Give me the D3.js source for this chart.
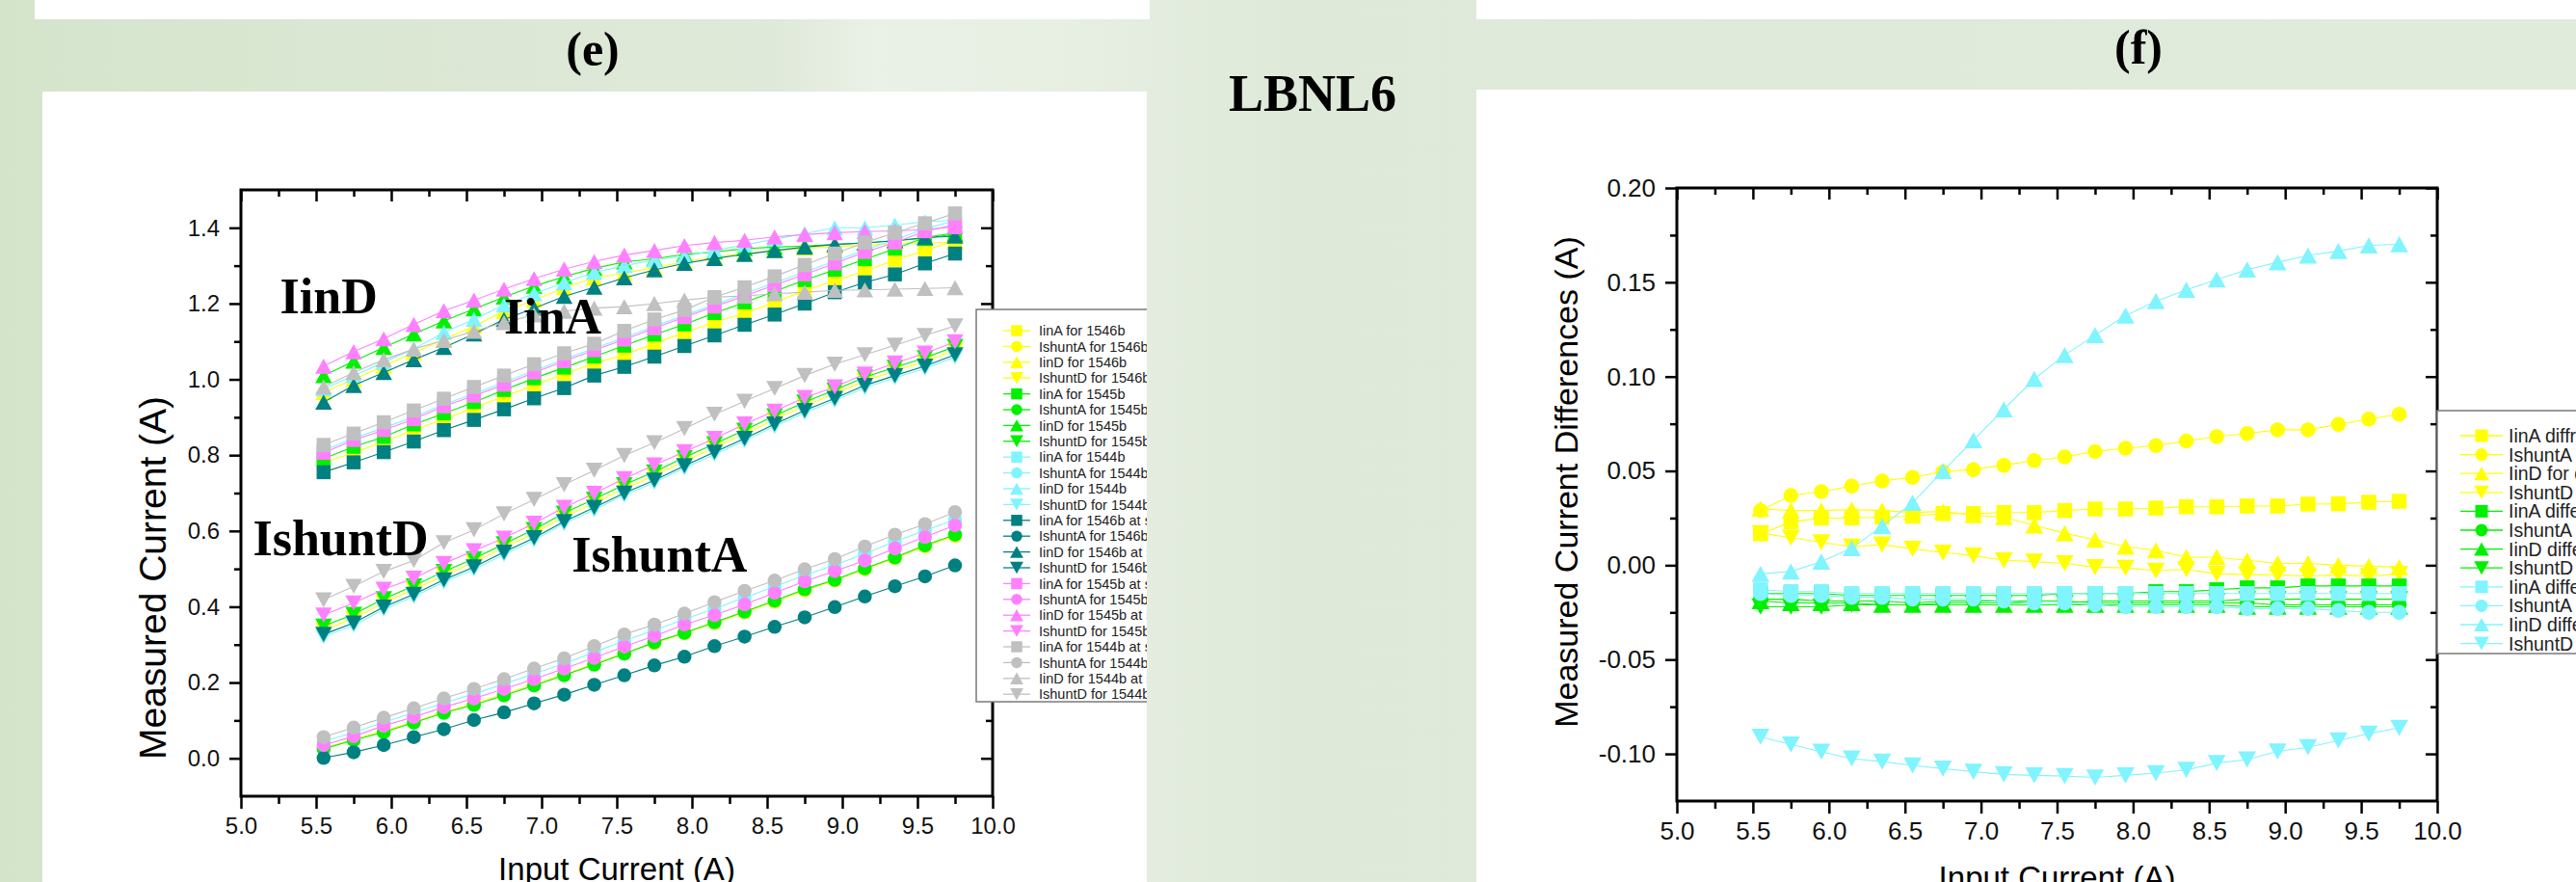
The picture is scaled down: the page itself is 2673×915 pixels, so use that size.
<!DOCTYPE html>
<html>
<head>
<meta charset="utf-8">
<script src="https://cdn.jsdelivr.net/npm/d3@7"></script>
<style>
html, body { margin: 0; padding: 0; background: #dfe9d9; }
svg { display: block; }
</style>
</head>
<body>
<svg id="chart" width="2673" height="915"></svg>
<script>
// input current steps (A)
const xValues = [5.55, 5.75, 5.95, 6.15, 6.35, 6.55, 6.75, 6.95, 7.15, 7.35, 7.55,
                 7.75, 7.95, 8.15, 8.35, 8.55, 8.75, 8.95, 9.15, 9.35, 9.55, 9.75];

const xTicks = [5.0, 5.5, 6.0, 6.5, 7.0, 7.5, 8.0, 8.5, 9.0, 9.5, 10.0];
const xMinor = [5.25, 5.75, 6.25, 6.75, 7.25, 7.75, 8.25, 8.75, 9.25, 9.75];
const leftYTicks = [0.0, 0.2, 0.4, 0.6, 0.8, 1.0, 1.2, 1.4];
const leftYMinor = [0.1, 0.3, 0.5, 0.7, 0.9, 1.1, 1.3];
const rightYTicks = [-0.10, -0.05, 0.00, 0.05, 0.10, 0.15, 0.20];
const rightYMinor = [-0.075, -0.025, 0.025, 0.075, 0.125, 0.175];

// ---- panel (e): measured currents ----
const iinA_1546b    = [0.781,0.806,0.836,0.866,0.895,0.925,0.955,0.984,1.014,1.043,1.065,1.094,1.124,1.150,1.175,1.203,1.234,1.260,1.285,1.315,1.340,1.366];
const ishuntA_1546b = [0.027,0.050,0.072,0.096,0.122,0.144,0.169,0.195,0.221,0.249,0.278,0.304,0.330,0.357,0.385,0.413,0.443,0.469,0.499,0.528,0.559,0.587];
const iinD_1546b    = [0.965,1.000,1.035,1.070,1.105,1.140,1.180,1.209,1.242,1.268,1.280,1.295,1.310,1.322,1.332,1.340,1.346,1.350,1.354,1.358,1.360,1.362];
const ishuntD_1546b = [0.339,0.369,0.411,0.445,0.483,0.517,0.556,0.594,0.637,0.674,0.712,0.746,0.784,0.820,0.856,0.894,0.930,0.962,0.996,1.022,1.047,1.077];

const iinA_1545b    = [0.791,0.822,0.848,0.881,0.910,0.940,0.972,1.003,1.031,1.060,1.089,1.118,1.145,1.175,1.203,1.232,1.262,1.289,1.317,1.345,1.374,1.387];
const ishuntA_1545b = [0.025,0.048,0.069,0.094,0.120,0.141,0.166,0.192,0.219,0.247,0.276,0.306,0.331,0.359,0.387,0.416,0.446,0.471,0.501,0.530,0.562,0.590];
const iinD_1545b    = [1.010,1.048,1.084,1.120,1.154,1.186,1.217,1.246,1.271,1.293,1.310,1.318,1.330,1.336,1.345,1.349,1.352,1.356,1.360,1.366,1.372,1.383];
const ishuntD_1545b = [0.349,0.380,0.421,0.455,0.493,0.527,0.566,0.604,0.647,0.684,0.722,0.756,0.794,0.830,0.866,0.904,0.940,0.972,1.006,1.032,1.057,1.087];

const iinA_1544b    = [0.812,0.845,0.872,0.901,0.934,0.962,0.992,1.023,1.053,1.082,1.110,1.140,1.169,1.197,1.226,1.255,1.283,1.312,1.342,1.368,1.398,1.418];
const ishuntA_1544b = [0.045,0.068,0.095,0.120,0.146,0.170,0.196,0.223,0.250,0.280,0.310,0.338,0.367,0.395,0.424,0.453,0.483,0.510,0.540,0.572,0.601,0.630];
const iinD_1544b    = [0.975,1.010,1.045,1.080,1.124,1.158,1.196,1.226,1.255,1.282,1.300,1.315,1.325,1.340,1.355,1.370,1.385,1.400,1.400,1.407,1.416,1.420];
const ishuntD_1544b = [0.321,0.351,0.393,0.427,0.465,0.499,0.538,0.576,0.619,0.656,0.694,0.728,0.766,0.802,0.838,0.876,0.912,0.944,0.978,1.004,1.029,1.059];

const iinA_1546b_2    = [0.755,0.781,0.808,0.836,0.866,0.893,0.921,0.950,0.977,1.010,1.033,1.060,1.088,1.116,1.144,1.171,1.200,1.230,1.256,1.277,1.306,1.332];
const ishuntA_1546b_2 = [0.001,0.016,0.035,0.056,0.077,0.101,0.121,0.145,0.168,0.194,0.219,0.245,0.268,0.296,0.321,0.347,0.372,0.399,0.427,0.454,0.480,0.509];
const iinD_1546b_2    = [0.940,0.984,1.018,1.052,1.084,1.120,1.158,1.188,1.219,1.243,1.268,1.289,1.306,1.319,1.330,1.340,1.349,1.356,1.360,1.366,1.374,1.378];
const ishuntD_1546b_2 = [0.327,0.357,0.399,0.433,0.471,0.505,0.544,0.582,0.625,0.662,0.700,0.734,0.772,0.808,0.844,0.882,0.918,0.950,0.984,1.010,1.035,1.065];

const iinA_1545b_2    = [0.806,0.840,0.866,0.895,0.929,0.957,0.986,1.018,1.048,1.077,1.105,1.135,1.164,1.192,1.220,1.249,1.277,1.306,1.336,1.361,1.391,1.408];
const ishuntA_1545b_2 = [0.035,0.058,0.086,0.109,0.135,0.158,0.183,0.209,0.237,0.265,0.295,0.323,0.353,0.378,0.406,0.437,0.467,0.494,0.522,0.554,0.584,0.615];
const iinD_1545b_2    = [1.035,1.073,1.107,1.145,1.181,1.209,1.238,1.266,1.291,1.311,1.328,1.340,1.353,1.361,1.367,1.376,1.382,1.387,1.390,1.392,1.395,1.403];
const ishuntD_1545b_2 = [0.378,0.410,0.446,0.475,0.514,0.548,0.581,0.620,0.662,0.699,0.738,0.774,0.809,0.844,0.882,0.916,0.952,0.980,1.014,1.043,1.069,1.099];

const iinA_1544b_2    = [0.827,0.857,0.887,0.918,0.949,0.980,1.010,1.040,1.069,1.094,1.128,1.158,1.183,1.217,1.243,1.272,1.302,1.332,1.361,1.387,1.412,1.438];
const ishuntA_1544b_2 = [0.056,0.081,0.107,0.132,0.158,0.183,0.209,0.237,0.264,0.296,0.327,0.353,0.382,0.412,0.442,0.469,0.499,0.526,0.559,0.590,0.618,0.650];
const iinD_1544b_2    = [0.980,1.018,1.052,1.080,1.103,1.127,1.150,1.170,1.180,1.188,1.192,1.200,1.209,1.217,1.220,1.226,1.230,1.235,1.236,1.238,1.240,1.242];
const ishuntD_1544b_2 = [0.418,0.454,0.493,0.522,0.569,0.603,0.645,0.683,0.722,0.760,0.799,0.833,0.870,0.908,0.942,0.976,1.010,1.040,1.065,1.090,1.116,1.141];

// ---- panel (f): differences ----
const diffIinA_1546b    = [0.0166,0.0230,0.0250,0.0250,0.0255,0.0260,0.0274,0.0274,0.0279,0.0279,0.0290,0.0298,0.0298,0.0303,0.0310,0.0310,0.0314,0.0314,0.0324,0.0326,0.0334,0.0339];
const diffIshuntA_1546b = [0.0290,0.0370,0.0390,0.0420,0.0447,0.0466,0.0495,0.0507,0.0530,0.0555,0.0574,0.0603,0.0620,0.0634,0.0658,0.0682,0.0698,0.0718,0.0718,0.0747,0.0775,0.0800];
const diffIinD_1546b    = [0.0300,0.0290,0.0290,0.0295,0.0290,0.0280,0.0285,0.0266,0.0255,0.0211,0.0170,0.0135,0.0099,0.0079,0.0043,0.0043,0.0026,0.0010,0.0010,0.0000,-0.0005,-0.0010];
const diffIshuntD_1546b = [0.0170,0.0146,0.0122,0.0098,0.0110,0.0087,0.0067,0.0051,0.0026,0.0019,0.0010,-0.0010,-0.0014,-0.0029,-0.0022,-0.0046,-0.0050,-0.0050,-0.0058,-0.0050,-0.0058,-0.0046];

const diffIinA_1545b    = [-0.015,-0.015,-0.015,-0.016,-0.016,-0.016,-0.016,-0.016,-0.016,-0.016,-0.015,-0.015,-0.015,-0.014,-0.014,-0.013,-0.012,-0.012,-0.011,-0.011,-0.011,-0.011];
const diffIshuntA_1545b = [-0.018,-0.018,-0.019,-0.019,-0.019,-0.020,-0.019,-0.019,-0.019,-0.019,-0.019,-0.020,-0.020,-0.020,-0.020,-0.020,-0.020,-0.021,-0.021,-0.021,-0.021,-0.021];
const diffIinD_1545b    = [-0.019,-0.020,-0.020,-0.020,-0.021,-0.021,-0.021,-0.021,-0.021,-0.021,-0.021,-0.021,-0.021,-0.021,-0.021,-0.021,-0.022,-0.022,-0.022,-0.022,-0.022,-0.022];
const diffIshuntD_1545b = [-0.022,-0.022,-0.022,-0.021,-0.021,-0.021,-0.020,-0.020,-0.020,-0.020,-0.020,-0.019,-0.019,-0.019,-0.019,-0.019,-0.018,-0.018,-0.018,-0.018,-0.018,-0.018];

const diffIinA_1544b    = [-0.013,-0.014,-0.014,-0.015,-0.015,-0.015,-0.015,-0.015,-0.015,-0.015,-0.015,-0.015,-0.015,-0.015,-0.015,-0.015,-0.015,-0.015,-0.015,-0.015,-0.015,-0.015];
const diffIshuntA_1544b = [-0.015,-0.016,-0.016,-0.017,-0.017,-0.018,-0.018,-0.018,-0.019,-0.020,-0.020,-0.021,-0.022,-0.022,-0.022,-0.022,-0.023,-0.023,-0.023,-0.024,-0.025,-0.025];
const diffIinD_1544b    = [-0.0046,-0.0033,0.0019,0.0091,0.0207,0.0331,0.0499,0.0663,0.0826,0.0987,0.1114,0.1220,0.1323,0.1400,0.1460,0.1515,0.1567,0.1606,0.1642,0.1666,0.1695,0.1702];
const diffIshuntD_1544b = [-0.0910,-0.0950,-0.0989,-0.1025,-0.1041,-0.1061,-0.1078,-0.1095,-0.1109,-0.1114,-0.1118,-0.1125,-0.1114,-0.1102,-0.1085,-0.1049,-0.1030,-0.0987,-0.0965,-0.0929,-0.0893,-0.0862];

const YELLOW = "#ffff00", GREEN = "#00f000", CYAN = "#80f4ff",
      TEAL = "#008080", VIOLET = "#ff80ff", GREY = "#c0c0c0";

const leftSeries = [
    ["IinA for 1546b", iinA_1546b, YELLOW, "square"],
    ["IshuntA for 1546b", ishuntA_1546b, YELLOW, "circle"],
    ["IinD for 1546b", iinD_1546b, YELLOW, "up"],
    ["IshuntD for 1546b", ishuntD_1546b, YELLOW, "down"],
    ["IinA for 1545b", iinA_1545b, GREEN, "square"],
    ["IshuntA for 1545b", ishuntA_1545b, GREEN, "circle"],
    ["IinD for 1545b", iinD_1545b, GREEN, "up"],
    ["IshuntD for 1545b", ishuntD_1545b, GREEN, "down"],
    ["IinA for 1544b", iinA_1544b, CYAN, "square"],
    ["IshuntA for 1544b", ishuntA_1544b, CYAN, "circle"],
    ["IinD for 1544b", iinD_1544b, CYAN, "up"],
    ["IshuntD for 1544b", ishuntD_1544b, CYAN, "down"],
    ["IinA for 1546b at second run", iinA_1546b_2, TEAL, "square"],
    ["IshuntA for 1546b at second run", ishuntA_1546b_2, TEAL, "circle"],
    ["IinD for 1546b at second run", iinD_1546b_2, TEAL, "up"],
    ["IshuntD for 1546b at second run", ishuntD_1546b_2, TEAL, "down"],
    ["IinA for 1545b at second run", iinA_1545b_2, VIOLET, "square"],
    ["IshuntA for 1545b at second run", ishuntA_1545b_2, VIOLET, "circle"],
    ["IinD for 1545b at second run", iinD_1545b_2, VIOLET, "up"],
    ["IshuntD for 1545b at second run", ishuntD_1545b_2, VIOLET, "down"],
    ["IinA for 1544b at second run", iinA_1544b_2, GREY, "square"],
    ["IshuntA for 1544b at second run", ishuntA_1544b_2, GREY, "circle"],
    ["IinD for 1544b at second run", iinD_1544b_2, GREY, "up"],
    ["IshuntD for 1544b at second run", ishuntD_1544b_2, GREY, "down"]
];

const rightSeries = [
    ["IinA diffrence for 1546b", diffIinA_1546b, YELLOW, "square"],
    ["IshuntA  difference for 1546b", diffIshuntA_1546b, YELLOW, "circle"],
    ["IinD for difference 1546b", diffIinD_1546b, YELLOW, "up"],
    ["IshuntD  difference for 1546b", diffIshuntD_1546b, YELLOW, "down"],
    ["IinA difference for 1545b", diffIinA_1545b, GREEN, "square"],
    ["IshuntA  difference for 1545b", diffIshuntA_1545b, GREEN, "circle"],
    ["IinD difference for 1545b", diffIinD_1545b, GREEN, "up"],
    ["IshuntD  difference for 1545b", diffIshuntD_1545b, GREEN, "down"],
    ["IinA difference for 1544b", diffIinA_1544b, CYAN, "square"],
    ["IshuntA  difference for 1544b", diffIshuntA_1544b, CYAN, "circle"],
    ["IinD difference for 1544b", diffIinD_1544b, CYAN, "up"],
    ["IshuntD  difference for 1544b", diffIshuntD_1544b, CYAN, "down"]
];

// curve group names written inside panel (e), placed in data units
const leftNotes = [
    {text: "IinD", x: 5.26, y: 1.175},
    {text: "IinA", x: 6.75, y: 1.12},
    {text: "IshuntD", x: 5.08, y: 0.535},
    {text: "IshuntA", x: 7.20, y: 0.493}
];

const SANS = "'Liberation Sans', Arial, sans-serif";
const SERIF = "'Liberation Serif', 'Times New Roman', serif";

let svg = d3.select("#chart");
let defs = svg.append("defs");

// page background
let grad = defs.append("linearGradient").attr("id", "bg");
[[0, "#d4e4cb"], [0.12, "#dae7d2"], [0.3, "#dfe9d9"], [0.34, "#eaf1e7"],
 [0.42, "#e6efe2"], [0.5, "#dfe9d9"], [1, "#e1ebdc"]].forEach(s => {
    grad.append("stop").attr("offset", s[0]).attr("stop-color", s[1]);
});
svg.append("rect").attr("width", 2673).attr("height", 915).attr("fill", "url(#bg)");
svg.append("rect").attr("x", 36).attr("y", 0).attr("width", 1157).attr("height", 20).attr("fill", "#fff");
svg.append("rect").attr("x", 1532).attr("y", 0).attr("width", 1141).attr("height", 20).attr("fill", "#fff");
svg.append("rect").attr("x", 44).attr("y", 95).attr("width", 1146).attr("height", 820).attr("fill", "#fff");
svg.append("rect").attr("x", 1532).attr("y", 93).attr("width", 1141).attr("height", 822).attr("fill", "#fff");

let heading = (txt, x, y, size) => svg.append("text")
    .attr("x", x).attr("y", y)
    .attr("text-anchor", "middle")
    .style("font-family", SERIF).style("font-weight", "bold")
    .style("font-size", size + "px")
    .text(txt);
heading("(e)", 615, 68, 50);
heading("(f)", 2219, 66, 50);
heading("LBNL6", 1362, 115, 54);

function markerPath(shape, s){
    if(shape === "square") return d3.symbol(d3.symbolSquare, s * s)();
    if(shape === "circle") return d3.symbol(d3.symbolCircle, Math.PI * s * s / 4)();
    let w = s * 1.2, h = w * 0.9;
    if(shape === "up") return `M0,${-h / 2}L${w / 2},${h / 2}L${-w / 2},${h / 2}Z`;
    return `M0,${h / 2}L${w / 2},${-h / 2}L${-w / 2},${-h / 2}Z`;
}

function drawPanel(cfg){
    defs.append("clipPath").attr("id", cfg.id + "-clip")
        .append("rect")
            .attr("x", cfg.clip[0]).attr("y", cfg.clip[1])
            .attr("width", cfg.clip[2]).attr("height", cfg.clip[3]);

    let root = svg.append("g").attr("clip-path", `url(#${cfg.id}-clip)`);
    let m = cfg.plot;
    let w = m.right - m.left, h = m.bottom - m.top;
    let g = root.append("g").attr("transform", `translate(${m.left},${m.top})`);

    let x = d3.scaleLinear().domain([5, 10]).range([0, w]);
    let y = d3.scaleLinear().domain(cfg.yDomain).range([h, 0]);

    let fmtY = d => d3.format(cfg.yFormat)(d).replace("\u2212", "-");

    // series: thin connecting lines, then markers
    let line = d3.line().x((d, i) => x(xValues[i])).y(d => y(d));
    let series = g.selectAll("g.series")
        .data(cfg.series)
        .enter().append("g")
            .attr("class", "series");

    series.append("path")
        .attr("d", d => line(d[1]))
        .attr("fill", "none")
        .attr("stroke", d => d[2])
        .attr("stroke-width", 1.1);

    series.selectAll("path.mark")
        .data(d => d[1].map((v, i) => ({v, i, color: d[2], shape: d[3]})))
        .enter().append("path")
            .attr("class", "mark")
            .attr("transform", d => `translate(${x(xValues[d.i])},${y(d.v)})`)
            .attr("d", d => markerPath(d.shape, cfg.markSize))
            .attr("fill", d => d.color);

    // axes with major and minor ticks, mirrored inward on top/right
    let tickStyle = sel => {
        sel.select(".domain").remove();
        sel.selectAll(".tick line").attr("stroke", "#000").attr("stroke-width", 2.5);
        sel.selectAll(".tick text")
            .style("font-family", SANS)
            .style("font-size", cfg.tickFont + "px")
            .attr("fill", "#111");
    };

    g.append("g").attr("transform", `translate(0,${h})`)
        .call(d3.axisBottom(x).tickValues(xTicks).tickSize(13).tickPadding(9)
            .tickFormat(d3.format(".1f")))
        .call(tickStyle);
    g.append("g").attr("transform", `translate(0,${h})`)
        .call(d3.axisBottom(x).tickValues(xMinor).tickSize(8).tickFormat(""))
        .call(tickStyle);
    g.append("g")
        .call(d3.axisTop(x).tickValues(xTicks).tickSize(-12).tickFormat(""))
        .call(tickStyle);
    g.append("g")
        .call(d3.axisTop(x).tickValues(xMinor).tickSize(-7).tickFormat(""))
        .call(tickStyle);

    g.append("g")
        .call(d3.axisLeft(y).tickValues(cfg.yTicks).tickSize(12).tickPadding(10)
            .tickFormat(fmtY))
        .call(tickStyle);
    g.append("g")
        .call(d3.axisLeft(y).tickValues(cfg.yMinor).tickSize(7).tickFormat(""))
        .call(tickStyle);
    g.append("g").attr("transform", `translate(${w},0)`)
        .call(d3.axisRight(y).tickValues(cfg.yTicks).tickSize(-12).tickFormat(""))
        .call(tickStyle);
    g.append("g").attr("transform", `translate(${w},0)`)
        .call(d3.axisRight(y).tickValues(cfg.yMinor).tickSize(-7).tickFormat(""))
        .call(tickStyle);

    g.append("rect")
        .attr("width", w).attr("height", h)
        .attr("fill", "none").attr("stroke", "#000").attr("stroke-width", 3);

    // axis titles
    g.append("text")
        .attr("x", w / 2).attr("y", cfg.xTitleY - m.top)
        .attr("text-anchor", "middle")
        .style("font-family", SANS).style("font-size", cfg.xTitleFont + "px")
        .text("Input Current (A)");
    g.append("text")
        .attr("transform", `translate(${cfg.yTitleX - m.left},${h / 2 + cfg.yTitleShift}) rotate(-90)`)
        .attr("text-anchor", "middle")
        .style("font-family", SANS).style("font-size", cfg.yTitleFont + "px")
        .text(cfg.yTitle);

    // annotations in data units
    g.selectAll("text.note")
        .data(cfg.notes || [])
        .enter().append("text")
            .attr("class", "note")
            .attr("x", d => x(d.x)).attr("y", d => y(d.y))
            .style("font-family", SERIF).style("font-weight", "bold")
            .style("font-size", "52px")
            .text(d => d.text);

    // legend, drawn over the frame with a white box
    let L = cfg.legend;
    let lg = root.append("g").attr("transform", `translate(${L.x},${L.y})`);
    lg.append("rect")
        .attr("width", L.w).attr("height", L.h)
        .attr("fill", "#fff").attr("stroke", "#7a7a7a").attr("stroke-width", 1.5);
    let rows = lg.selectAll("g.row")
        .data(cfg.series)
        .enter().append("g")
            .attr("class", "row")
            .attr("transform", (d, i) => `translate(${L.symX},${L.row0 + i * L.dy})`);
    rows.append("line")
        .attr("x1", -L.half).attr("x2", L.half)
        .attr("stroke", d => d[2]).attr("stroke-width", 1.3);
    rows.append("path")
        .attr("d", d => markerPath(d[3], L.markSize))
        .attr("fill", d => d[2]);
    rows.append("text")
        .attr("x", L.textX).attr("dy", "0.36em")
        .style("font-family", SANS).style("font-size", L.font + "px")
        .style("white-space", "pre")
        .attr("fill", "#222")
        .text(d => d[0]);
}

drawPanel({
    id: "e",
    clip: [44, 95, 1146, 820],
    plot: {left: 250, right: 1030, top: 197, bottom: 826},
    yDomain: [-0.1, 1.5],
    yTicks: leftYTicks, yMinor: leftYMinor, yFormat: ".1f",
    tickFont: 24, xTitleFont: 33, yTitleFont: 39,
    xTitleY: 913, yTitleX: 172, yTitleShift: 88,
    yTitle: "Measured Current (A)",
    markSize: 14.5,
    series: leftSeries,
    notes: leftNotes,
    legend: {x: 1013, y: 321, w: 260, h: 407, symX: 42, row0: 22, dy: 16.4,
             half: 14, markSize: 11.5, textX: 23, font: 14.5}
});

drawPanel({
    id: "f",
    clip: [1532, 93, 1141, 822],
    plot: {left: 1740, right: 2529, top: 195, bottom: 831},
    yDomain: [-0.125, 0.2],
    yTicks: rightYTicks, yMinor: rightYMinor, yFormat: ".2f",
    tickFont: 26, xTitleFont: 33, yTitleFont: 34,
    xTitleY: 922, yTitleX: 1637, yTitleShift: -13,
    yTitle: "Measured Current Differences (A)",
    markSize: 15.5,
    series: rightSeries,
    legend: {x: 2529, y: 426, w: 200, h: 252, symX: 46, row0: 26, dy: 19.6,
             half: 22, markSize: 13, textX: 28, font: 19.5}
});
</script>
</body>
</html>
